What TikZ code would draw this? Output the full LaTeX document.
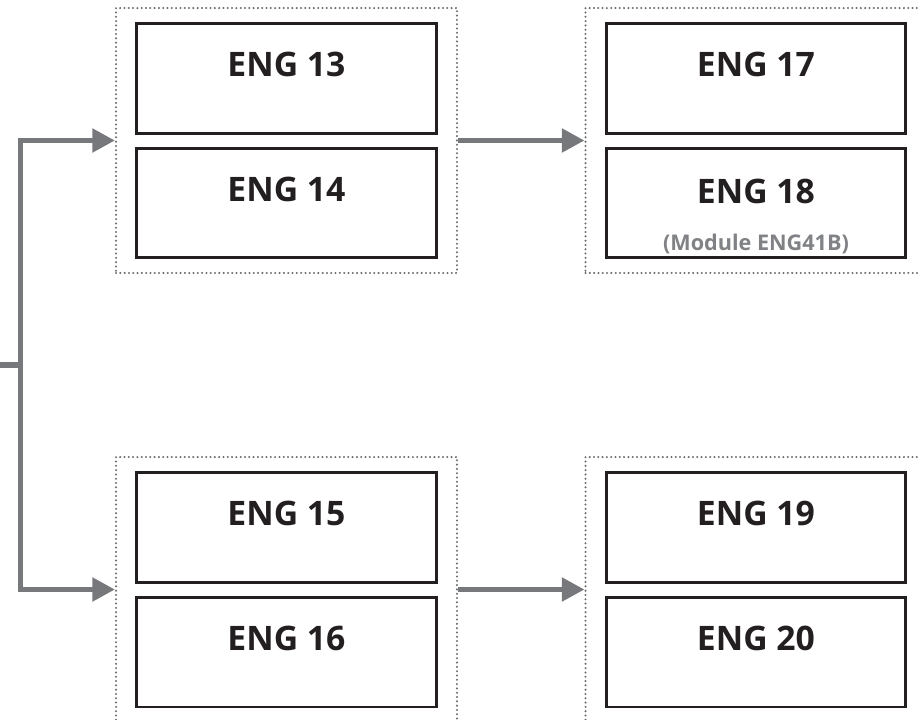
\documentclass[tikz,border=0pt]{standalone}
\usepackage{fontspec}
\setmainfont{Open Sans}
\usetikzlibrary{arrows.meta}
\usepackage{xcolor}

\definecolor{flowgray}{HTML}{77787B}
\definecolor{dotgray}{HTML}{6D6E71}
\definecolor{boxblack}{HTML}{231F20}
\definecolor{notegray}{HTML}{808285}

\tikzset{
  group/.style={draw=dotgray, line width=1.3pt, line cap=round,
    dash pattern=on 0pt off 2.45pt, minimum width=6.82cm,
    minimum height=5.3cm, inner sep=0pt},
  course/.style={draw=boxblack, line width=1.7pt, minimum width=6cm,
    minimum height=2.2cm, inner sep=0pt},
  eng/.style={font=\fontsize{19.2}{22}\selectfont\bfseries, text=boxblack},
  note/.style={font=\fontsize{12.3}{14}\selectfont\bfseries, text=notegray},
  flow/.style={draw=flowgray, line width=2.9pt, line join=miter},
  flowarrow/.style={flow, -{Triangle[length=0.45cm, width=0.46cm]}}
}

\begin{document}
\begin{tikzpicture}[x=0.02cm, y=-0.02cm]

  \useasboundingbox (0,0) rectangle (920,720);
  \clip (0,0) rectangle (920,720);

  % dotted groups
  \node[group] (g1) at (286.5,140.5) {};
  \node[group] (g2) at (756,140.5) {};
  \node[group] (g3) at (286.5,589.5) {};
  \node[group] (g4) at (756,589.5) {};

  % course boxes
  \node[course] (e13) at (286.5,78.5) {};
  \node[course] (e14) at (286.5,203) {};
  \node[course] (e17) at (756,78.5) {};
  \node[course] (e18) at (756,203) {};
  \node[course] (e15) at (286.5,527.5) {};
  \node[course] (e16) at (286.5,652) {};
  \node[course] (e19) at (756,527.5) {};
  \node[course] (e20) at (756,652) {};

  \node[eng] (t13) at ([yshift=0.28cm]e13.center) {ENG 13};
  \node[eng] (t14) at ([yshift=0.28cm]e14.center) {ENG 14};
  \node[eng] (t17) at ([yshift=0.28cm]e17.center) {ENG 17};
  \node[eng] (t18) at ([yshift=0.24cm]e18.center) {ENG 18};
  \node[note] (n18) at ([yshift=-0.82cm]e18.center) {(Module ENG41B)};
  \node[eng] (t15) at ([yshift=0.28cm]e15.center) {ENG 15};
  \node[eng] (t16) at ([yshift=0.28cm]e16.center) {ENG 16};
  \node[eng] (t19) at ([yshift=0.28cm]e19.center) {ENG 19};
  \node[eng] (t20) at ([yshift=0.28cm]e20.center) {ENG 20};

  % connectors
  \coordinate (in) at (0,365);
  \coordinate (split) at (20.5,365);
  \draw[flow] (in) -- (split);
  \draw[flowarrow] (split) |- (g1.west);
  \draw[flowarrow] (split) |- (g3.west);
  \draw[flowarrow] (g1.east) -- (g2.west);
  \draw[flowarrow] (g3.east) -- (g4.west);

\end{tikzpicture}
\end{document}
